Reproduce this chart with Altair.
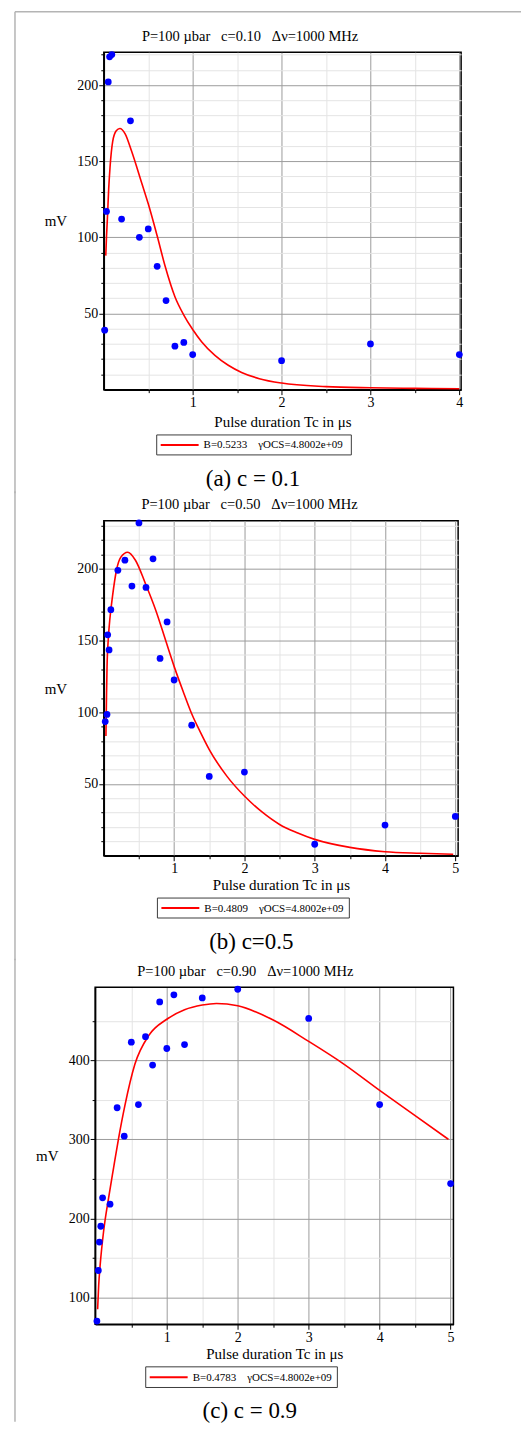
import altair as alt
import pandas as pd

FONT = "Liberation Serif"
RED = "#ff0000"
BLUE = "#0000ff"
GRID_MAJOR = "#9c9c9c"
GRID_MINOR = "#e4e4e4"
FRAME = "#b4b4b4"

# ---------------- data ----------------
# (a) c = 0.1
a_pts_x = [0.01, 0.03, 0.05, 0.065, 0.09, 0.2, 0.3, 0.4, 0.5, 0.6, 0.7, 0.8, 0.9, 1.0, 2.0, 3.0, 4.0]
a_pts_y = [39, 117, 202, 218.5, 220, 112, 176.5, 100, 105.5, 81, 58.5, 28.5, 31, 23, 19, 30, 23]
a_fit_x = [0.022, 0.03, 0.04, 0.055, 0.07, 0.1, 0.14, 0.18, 0.24, 0.31, 0.43, 0.5, 0.6, 0.69,
           0.8, 0.9, 1.0, 1.1, 1.25, 1.4, 1.55, 1.75, 2.0, 2.5, 3.0, 3.5, 4.0]
a_fit_y = [88, 100, 112, 132, 146, 163, 170, 171.5, 168, 157, 135, 122, 101, 81,
           61, 49, 39.5, 31.5, 22.5, 16, 11.3, 7.2, 4.3, 2.0, 1.2, 0.8, 0.6]

# (b) c = 0.5
b_pts_x = [0.02, 0.045, 0.055, 0.075, 0.1, 0.2, 0.3, 0.4, 0.5, 0.6, 0.7, 0.8, 0.9, 1.0,
           1.25, 1.5, 2.0, 3.0, 4.0, 5.0]
b_pts_y = [93.5, 98.5, 154, 143.5, 171.5, 199, 206, 188, 232, 187, 207, 137.5, 163, 122.5,
           91, 55.3, 58.3, 8, 21.4, 27.4]
b_fit_x = [0.03, 0.038, 0.046, 0.065, 0.088, 0.124, 0.18, 0.24, 0.34, 0.45, 0.59, 0.74, 0.88,
           1.0, 1.125, 1.25, 1.375, 1.5, 1.75, 2.0, 2.25, 2.5, 2.75, 3.0, 3.5, 4.0, 4.5, 4.97]
b_fit_y = [83.5, 110, 132, 152, 166, 181, 199, 208, 211.6, 206, 190, 171, 150,
           132, 115, 99, 86, 74, 55.5, 41.6, 30.5, 21.8, 16, 11.4, 5.8, 2.8, 1.7, 1.0]

# (c) c = 0.9
c_pts_x = [0.015, 0.035, 0.05, 0.07, 0.095, 0.2, 0.3, 0.4, 0.5, 0.6, 0.7, 0.8, 0.9, 1.0,
           1.1, 1.25, 1.5, 2.0, 3.0, 4.0, 5.0]
c_pts_y = [70, 134, 170, 190, 226, 218, 340, 304, 423, 344, 430, 394, 474, 415,
           483, 420, 479, 490, 453, 344, 244]
c_fit_x = [0.025, 0.04, 0.062, 0.11, 0.18, 0.25, 0.32, 0.41, 0.55, 0.75, 1.0, 1.25, 1.5,
           1.7, 2.0, 2.5, 3.0, 3.5, 4.0, 4.5, 4.97]
c_fit_y = [85, 115, 142, 184, 226, 264, 301, 343, 395, 432, 452, 464, 470,
           472, 469, 451, 424, 395, 362, 330, 300]

NB = "\u00a0"
titles = [
    f"P=100 µbar{NB*3}c=0.10{NB*3}Δν=1000 MHz",
    f"P=100 µbar{NB*3}c=0.50{NB*3}Δν=1000 MHz",
    f"P=100 µbar{NB*3}c=0.90{NB*3}Δν=1000 MHz",
]
legend_labels = [
    f"B=0.5233{NB*4}γOCS=4.8002e+09",
    f"B=0.4809{NB*4}γOCS=4.8002e+09",
    f"B=0.4783{NB*4}γOCS=4.8002e+09",
]
captions = ["(a) c = 0.1", "(b) c=0.5", "(c) c = 0.9"]
x_title = "Pulse duration Tc in μs"
y_title = "mV"

a_xticks = [0.5, 1, 1.5, 2, 2.5, 3, 3.5, 4]
bc_xticks = [0.5, 1, 1.5, 2, 2.5, 3, 3.5, 4, 4.5, 5]
a_yticks = list(range(10, 221, 10))
b_yticks = list(range(10, 231, 10))
c_yticks = list(range(100, 451, 50))


def cond(test, major, minor):
    return {"condition": {"test": test, "value": major}, "value": minor}


def panel(px, py, fx, fy, title, leg, cap, w, h, xdom, ydom, xvals, yvals, ymaj,
          title_pos, box, cap_pos, xtitle_y, frame, top_line=None, shift=0.0):
    """shift: pixels by which the plot rectangle starts left of the group origin."""
    pts = pd.DataFrame({"t": px, "v": py})
    fit = pd.DataFrame({"t": fx, "v": fy})
    if shift:
        xs = alt.Scale(domain=xdom, nice=False, zero=False, range=[-shift, w - shift])
    else:
        xs = alt.Scale(domain=xdom, nice=False, zero=False)
    ys = alt.Scale(domain=ydom, nice=False, zero=False)
    xtest = "datum.value % 1 === 0"
    ytest = f"datum.value % {ymaj} === 0"
    xa = alt.Axis(values=xvals, title=x_title,
                  labelExpr=f"{xtest} ? format(datum.value, 'd') : ''",
                  grid=True, gridColor=cond(xtest, GRID_MAJOR, GRID_MINOR), gridWidth=1,
                  tickSize=cond(xtest, 5, 3), labelPadding=1,
                  labelOverlap=False, labelFlush=False,
                  titleY=xtitle_y, titleBaseline="middle")
    ykw = dict(values=yvals, title=y_title,
               labelExpr=f"{ytest} ? format(datum.value, 'd') : ''",
               grid=True, gridColor=cond(ytest, GRID_MAJOR, GRID_MINOR), gridWidth=1,
               tickSize=cond(ytest, 5, 3), labelPadding=1,
               labelOverlap=False, labelFlush=False,
               titleAngle=0, titleX=-48.5, titleY=h / 2, titleAlign="center",
               titleBaseline="middle")
    if shift:
        ykw["offset"] = shift
    ya = alt.Axis(**ykw)
    enc = dict(x=alt.X("t:Q", scale=xs, axis=xa), y=alt.Y("v:Q", scale=ys, axis=ya))
    line = alt.Chart(fit).mark_line(color=RED, strokeWidth=1.6,
                                    interpolate="monotone").encode(**enc)
    dots = alt.Chart(pts).mark_circle(size=46, color=BLUE, opacity=1).encode(**enc)

    tdf = pd.DataFrame({"s": [title]})
    ldf = pd.DataFrame({"s": [leg]})
    cdf = pd.DataFrame({"s": [cap]})

    ttl = alt.Chart(tdf).mark_text(font=FONT, fontSize=14.5, align="center",
                                   baseline="middle", color="black").encode(
        x=alt.value(title_pos[0]), y=alt.value(title_pos[1]), text="s:N")
    bx0, bx1, by0, by1 = box
    lbox = alt.Chart(ldf).mark_rect(fill="white", stroke="#3c3c3c", strokeWidth=1).encode(
        x=alt.value(bx0), x2=alt.value(bx1), y=alt.value(by0), y2=alt.value(by1))
    ymid = (by0 + by1) / 2
    lline = alt.Chart(ldf).mark_rule(color=RED, strokeWidth=2).encode(
        x=alt.value(bx0 + 4), x2=alt.value(bx0 + 42), y=alt.value(ymid))
    ltxt = alt.Chart(ldf).mark_text(font=FONT, fontSize=11, align="left",
                                    baseline="middle", color="black").encode(
        x=alt.value(bx0 + 47), y=alt.value(ymid + 0.5), text="s:N")
    ctxt = alt.Chart(cdf).mark_text(font=FONT, fontSize=23, align="center",
                                    baseline="middle", color="black").encode(
        x=alt.value(cap_pos[0]), y=alt.value(cap_pos[1]), text="s:N")
    fx0, fy0, fy1 = frame
    vline = alt.Chart(cdf).mark_rule(color=FRAME, strokeWidth=1.5).encode(
        x=alt.value(fx0), y=alt.value(fy0), y2=alt.value(fy1))
    layers = [vline]
    if top_line is not None:
        hline = alt.Chart(cdf).mark_rule(color=FRAME, strokeWidth=1.5).encode(
            x=alt.value(fx0), x2=alt.value(top_line), y=alt.value(fy0))
        layers.append(hline)
    layers += [line]
    if shift:
        border = alt.Chart(cdf).mark_rect(filled=False, stroke="black", strokeWidth=1.5).encode(
            x=alt.value(-shift), x2=alt.value(w - shift), y=alt.value(0), y2=alt.value(h))
        layers.append(border)
    layers += [dots, ttl, lbox, lline, ltxt, ctxt]
    ch = alt.layer(*layers).properties(width=w, height=h)
    if shift:
        ch = ch.properties(view=alt.ViewBackground(stroke="transparent"))
    return ch


# plot-area origins (page px): (a) x102 y49.3 ; (b) x102 y518.7 ; (c) x102(93.3 via shift) y985.7
pa = panel(a_pts_x, a_pts_y, a_fit_x, a_fit_y, titles[0], legend_labels[0], captions[0],
           358, 338, [0, 4.02], [0, 221.5], a_xticks, a_yticks, 50,
           (146.5, -15.5), (53, 248, 383.4, 403.4), (149.5, 427.5), 32,
           (-89, -40.55, 441.7), top_line=418)
pb = panel(b_pts_x, b_pts_y, b_fit_x, b_fit_y, titles[1], legend_labels[1], captions[1],
           355, 335.6, [0, 5.04], [0, 233.5], bc_xticks, b_yticks, 50,
           (146, -15.9), (53.7, 246, 378, 398), (147.8, 422.5), 28.4,
           (-89, -29.7, 440.3))
pc = panel(c_pts_x, c_pts_y, c_fit_x, c_fit_y, titles[2], legend_labels[2], captions[2],
           359, 337.6, [-0.01, 5.04], [66, 492.5], bc_xticks, c_yticks, 100,
           (141.8, -15), (42, 234, 380.3, 401), (146.3, 424.3), 29.5,
           (-89, -28.7, 435.3), shift=8.7)

chart = alt.vconcat(pa, pb, pc, spacing=131.4, bounds="flush").properties(
    padding={"left": 5, "top": 0, "right": 0, "bottom": 0},
    background="white",
).configure_view(
    stroke="black", strokeWidth=1.5
).configure_axis(
    labelFont=FONT, titleFont=FONT, labelFontSize=14, titleFontSize=15,
    titleFontWeight="normal", labelColor="black", titleColor="black",
    domainColor="black", domainWidth=1.5, tickColor="black", tickWidth=1,
).configure_text(font=FONT)

chart.save("out.html", embed_options={"renderer": "svg", "actions": False})
